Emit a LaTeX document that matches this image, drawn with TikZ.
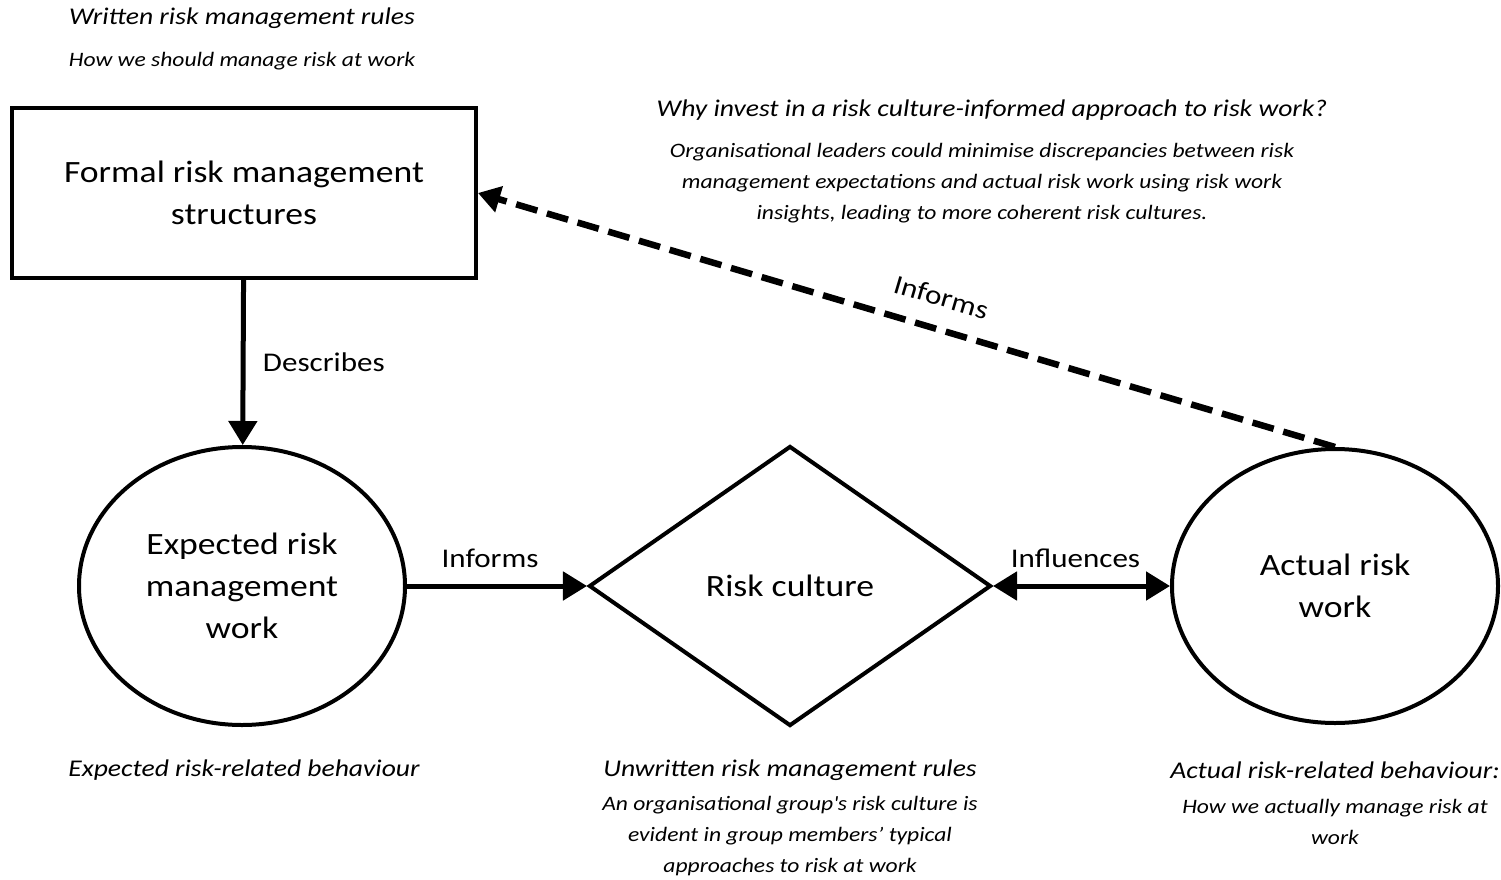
\documentclass[tikz,border=0pt]{standalone}
\usepackage{fontspec}
\setmainfont{Carlito}[FakeStretch=1.15]
\usetikzlibrary{arrows.meta, shapes.geometric, positioning}
\tikzset{
  formalbox/.style={
    draw,
    line width=4pt,
    minimum width=464pt,
    minimum height=170pt,
    align=center,
    font=\fontsize{31}{42}\selectfont
  },
%
  workellipse/.style={
    draw,
    ellipse,
    line width=4pt,
    minimum width=326pt,
    minimum height=278pt,
    inner sep=0pt,
    align=center,
    font=\fontsize{31}{42}\selectfont
  },
%
  culturediamond/.style={
    draw,
    diamond,
    line width=4pt,
    minimum width=402pt,
    minimum height=280pt,
    inner sep=0pt,
    font=\fontsize{31}{42}\selectfont
  },
%
  flowedge/.style={
    draw,
    line width=5pt,
    -{Triangle[length=24pt,width=28pt]}
  },
%
  bothedge/.style={
    draw,
    line width=5pt,
    {Triangle[length=24pt,width=28pt]}-{Triangle[length=24pt,width=28pt]}
  },
%
  infoedge/.style={
    draw,
    line width=6.5pt,
    dash pattern=on 22pt off 10pt,
    -{Triangle[length=22pt,width=26pt]}
  },
%
  edgelabel/.style={
    font=\fontsize{27}{32}\selectfont
  },
%
  heading/.style={
    align=center,
    font=\fontsize{24}{29}\selectfont\itshape
  },
%
  subnote/.style={
    align=center,
    font=\fontsize{20.5}{31}\selectfont\itshape
  },
}

\begin{document}
\begin{tikzpicture}[x=1pt, y=-1pt]
\useasboundingbox (0,0) rectangle (1501,880);

\node[formalbox] at (244,193) (formal) {Formal risk management\\structures};
\node[workellipse] at (242,586) (expected) {Expected risk\\management\\work};
\node[culturediamond] at (790,586) (culture) {Risk culture};
\node[workellipse, minimum height=274pt] at (1335,586) (actual) {Actual risk\\work};

\draw[flowedge] (formal) -- node[edgelabel, right=14pt] (describes) {Describes} (expected);
\draw[flowedge] (expected) -- node[edgelabel, above=12pt, xshift=-7pt] (informs) {Informs} (culture);
\draw[bothedge] (culture) -- node[edgelabel, above=12pt, xshift=-6pt] (influences) {Influences} (actual);
\draw[infoedge] (actual.north) -- node[edgelabel, sloped, above=16pt, pos=0.47] (feedback) {Informs} (formal.east);

% notes
\node[heading] at (242,18) (written) {Written risk management rules};
\node[subnote] at (242,61) (should) {How we should manage risk at work};
\node[heading] at (992,110) (why) {Why invest in a risk culture-informed approach to risk work?};
\node[subnote] at (982,183) (leaders) {Organisational leaders could minimise discrepancies between risk\\management expectations and actual risk work using risk work\\insights, leading to more coherent risk cultures.};
\node[heading] at (244,770) (expbehaviour) {Expected risk-related behaviour};
\node[heading] at (790,770) (unwritten) {Unwritten risk management rules};
\node[subnote] at (790,836) (group) {An organisational group\textquotesingle s risk culture is\\evident in group members’ typical\\approaches to risk at work};
\node[heading] at (1335,770) (actbehaviour) {Actual risk-related behaviour:};
\node[subnote] at (1335,822) (actually) {How we actually manage risk at\\work};

\end{tikzpicture}
\end{document}
